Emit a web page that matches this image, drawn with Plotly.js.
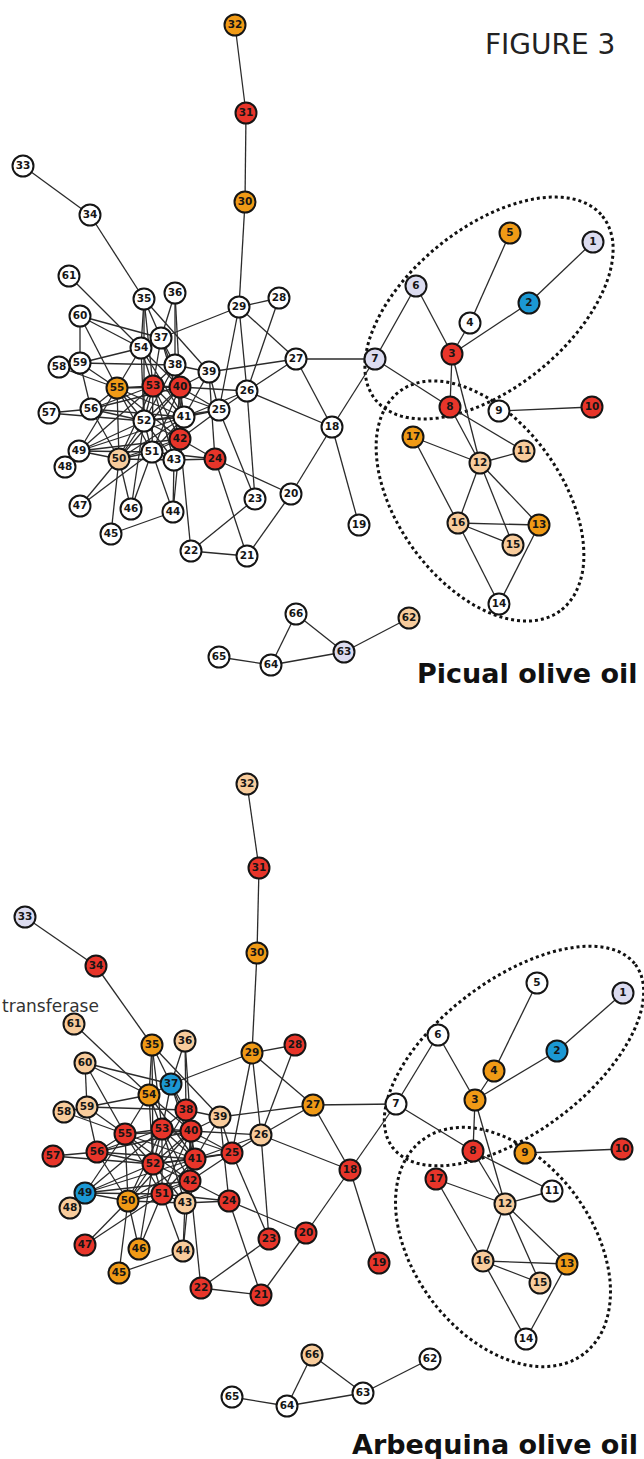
<!DOCTYPE html>
<html>
<head>
<meta charset="utf-8">
<script src="https://cdn.plot.ly/plotly-3.0.1.min.js"></script>
<style>html,body{margin:0;padding:0;background:#fff;}#chart{width:644px;height:1459px;}</style>
</head>
<body>
<div id="chart"></div>
<script>
// ---- node labels ----
const nodeIds = [1,2,3,4,5,6,7,8,9,10,11,12,13,14,15,16,17,18,19,20,21,22,23,24,25,26,27,28,29,30,31,32,33,34,35,36,37,38,39,40,41,42,43,44,45,46,47,48,49,50,51,52,53,54,55,56,57,58,59,60,61,62,63,64,65,66];

// ---- Picual network layout (pixel positions) ----
const picualX = [593,529,452,470,510,416,375,450,499,592, 524,480,539,499,513,458,413,332,359,291, 247,191,255,215,219,247,296,279,239,245, 246,235,23,90,144,175,161,175,209,180, 184,180,174,173,111,131,80,65,79,119, 152,144,153,141,117,91,49,59,80,80, 69,409,344,271,219,296];
const picualY = [242,303,354,323,233,286,359,407,411,407, 451,463,525,604,545,523,437,427,525,494, 556,551,499,459,410,391,359,298,307,202, 113,25,166,215,299,293,338,365,372,387, 417,439,460,512,534,509,506,467,451,459, 452,421,386,348,388,409,413,367,363,316, 276,618,652,665,657,614];
const picualClass = ["L","B","R","W","O","L","L","R","W","R", "T","T","O","W","T","T","O","W","W","W", "W","W","W","R","W","W","W","W","W","O", "R","O","W","W","W","W","W","W","W","R", "W","R","W","W","W","W","W","W","W","T", "W","W","R","W","O","W","W","W","W","W", "W","T","L","W","W","W"];

// ---- Arbequina network layout ----
const arbequinaX = [623,557,475,494,537,438,396,473,525,622, 552,505,567,526,540,483,436,350,379,306, 261,201,269,229,232,261,313,295,252,257, 259,247,25,96,152,185,171,186,220,191, 195,190,185,183,119,139,85,70,85,128, 162,153,162,149,125,97,53,64,87,85, 74,430,363,287,232,312];
const arbequinaY = [993,1051,1100,1071,983,1035,1104,1151,1153,1149, 1191,1204,1264,1339,1283,1261,1179,1170,1263,1233, 1295,1288,1239,1201,1153,1135,1105,1045,1053,953, 868,784,917,966,1045,1041,1084,1110,1117,1131, 1159,1181,1203,1251,1273,1249,1245,1208,1193,1201, 1194,1164,1129,1095,1134,1152,1156,1112,1107,1063, 1024,1359,1393,1406,1397,1355];
const arbequinaClass = ["L","B","O","O","W","W","W","R","O","R", "W","T","O","W","T","T","R","R","R","R", "R","R","R","R","R","T","O","R","O","O", "R","T","L","R","O","T","B","R","T","R", "R","R","T","T","O","O","R","T","B","O", "R","R","R","O","R","R","R","T","T","T", "T","W","W","W","W","T"];

// ---- edges (shared topology) ----
const edgeFrom = [1,2,4,5,6,6,7,7,7,3,3,8,8,9,11,12,12,12,12,13,15,16,13,16,17,18,18,18,18,
  62,63,63,64,64, 32,31,30,33,34,
  29,29,29,29,29,28,27,27,26,26,26,26,25,25,25,25,23,24,24,24,24,24,22,22,22,21,39,
  61,60,60,60,60,59,59,59,59,59,58,57,57,56,56,56,56,49,49,49,49,49,49,49,49,47,47,46,46,46,45,45,44,44,44,
  35,35,35,35,35,36,36,36,
  37,37,37,37,37,54,54,54,54,38,38,38,38,39,39,39,55,55,55,55,55,55,55,53,53,53,53,53,53,53,
  40,40,40,40,40,52,52,52,52,52,41,41,41,41,42,42,42,51,51,50,56,56,50,54,53,52];
const edgeTo = [2,3,3,4,3,7,8,18,27,8,12,12,11,10,12,17,16,15,13,16,16,14,14,17,17,19,20,27,26,
  63,64,66,66,65, 31,30,29,34,35,
  28,37,27,26,25,26,26,39,40,25,41,23,39,41,40,42,25,20,21,42,43,51,21,23,42,20,24,
  54,59,54,55,37,58,54,38,55,56,55,56,52,55,52,41,50,48,55,52,53,41,50,51,42,50,51,50,51,52,50,44,43,51,42,
  54,37,53,52,39,37,38,40,
  38,40,54,53,41,53,52,40,55,53,40,41,52,40,41,38,53,52,41,40,50,51,42,40,52,41,42,51,50,43,
  41,52,42,51,43,41,42,51,50,43,42,51,43,50,51,43,50,50,43,43,53,40,40,41,25,25];

// ---- highlighted module outlines (centre, semi-axes, tilt in degrees) ----
const moduleCx = [489,480,514,503];
const moduleCy = [308,501,1056,1247];
const moduleA = [146,136,152,134];
const moduleB = [80,82,76,89];
const moduleTilt = [-39,54,-37,53];

const palette = {W:"#ffffff", R:"#e8352a", O:"#f09a16", T:"#f8cc9c", B:"#1b98d4", L:"#dcdcf0"};

function edgeTrace(X, Y) {
  const ex = [], ey = [];
  for (let i = 0; i < edgeFrom.length; i++) {
    const a = edgeFrom[i]-1, b = edgeTo[i]-1;
    ex.push(X[a], X[b], null);
    ey.push(Y[a], Y[b], null);
  }
  return {x: ex, y: ey, mode: "lines", type: "scatter", hoverinfo: "skip",
          line: {color: "#2b2b2b", width: 1.3}, cliponaxis: false, showlegend: false};
}
function nodeTrace(X, Y, C) {
  return {x: X, y: Y, mode: "markers+text", type: "scatter", text: nodeIds.map(String),
          textposition: "middle center", cliponaxis: false, showlegend: false,
          textfont: {family: "DejaVu Sans", size: 10.5, color: "#151515", weight: "bold"},
          marker: {size: 21, color: C.map(c => palette[c]), line: {color: "#151515", width: 2}}};
}
function ellipsePath(i) {
  const t = moduleTilt[i]*Math.PI/180, ct = Math.cos(t), st = Math.sin(t);
  let d = "";
  for (let k = 0; k <= 120; k++) {
    const p = 2*Math.PI*k/120;
    const u = moduleA[i]*Math.cos(p), v = moduleB[i]*Math.sin(p);
    const x = moduleCx[i] + u*ct - v*st;
    const y = moduleCy[i] + u*st + v*ct;
    d += (k === 0 ? "M" : "L") + x.toFixed(1) + "," + y.toFixed(1);
  }
  return d + "Z";
}

const shapes = moduleCx.map((_, i) => ({type: "path", xref: "x", yref: "y", path: ellipsePath(i),
  line: {color: "#111", width: 3, dash: "3px,3px"}, layer: "below"}));

const data = [
  edgeTrace(picualX, picualY),
  edgeTrace(arbequinaX, arbequinaY),
  nodeTrace(picualX, picualY, picualClass),
  nodeTrace(arbequinaX, arbequinaY, arbequinaClass)
];

const layout = {
  width: 644, height: 1459, margin: {l:0, r:0, t:0, b:0},
  paper_bgcolor: "#fff", plot_bgcolor: "#fff", showlegend: false,
  xaxis: {range: [0,644], visible: false, fixedrange: true},
  yaxis: {range: [1459,0], visible: false, fixedrange: true},
  shapes: shapes,
  annotations: [
    {x: 550, y: 44, xref: "x", yref: "y", text: "FIGURE 3", showarrow: false,
     font: {family: "DejaVu Sans", size: 28, color: "#222"}},
    {x: 640, y: 673, xref: "x", yref: "y", xanchor: "right", text: "<b>Picual olive oil</b>", showarrow: false,
     font: {family: "DejaVu Sans", size: 27, color: "#111"}},
    {x: 640, y: 1444, xref: "x", yref: "y", xanchor: "right", text: "<b>Arbequina olive oil</b>", showarrow: false,
     font: {family: "DejaVu Sans", size: 27, color: "#111"}},
    {x: 101, y: 1006, xref: "x", yref: "y", xanchor: "right", text: "transferase", showarrow: false,
     font: {family: "DejaVu Sans", size: 17, color: "#333"}}
  ]
};

Plotly.newPlot("chart", data, layout, {staticPlot: true, displayModeBar: false});
</script>
</body>
</html>
